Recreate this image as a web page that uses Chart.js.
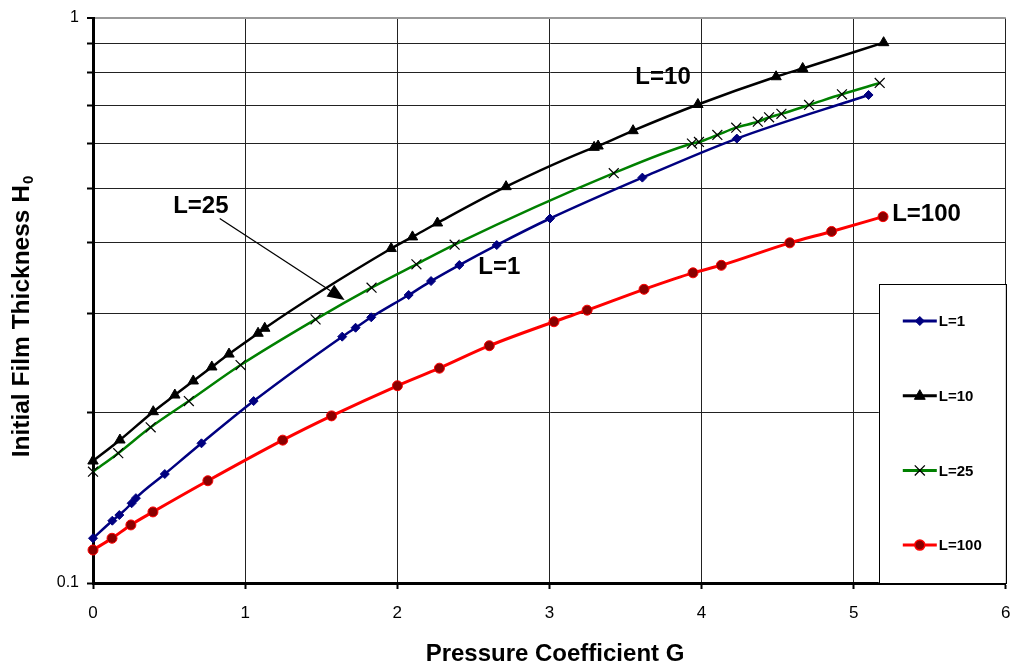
<!DOCTYPE html>
<html lang="en">
<head>
  <meta charset="UTF-8" />
  <title>Initial Film Thickness vs Pressure Coefficient</title>
  <script src="https://cdn.jsdelivr.net/npm/chart.js"></script>
  <style>
    html, body { margin: 0; padding: 0; background: #fff; overflow: hidden; }
    #wrap { width: 1010px; height: 663px; overflow: hidden; }
  </style>
</head>
<body>
<div id="wrap"><canvas id="chart" width="1014" height="663"></canvas></div>
<script>
// values: pressure coefficient G and film thickness H0
const gL1 = [0, 0.127, 0.173, 0.254, 0.282, 0.472, 0.713, 1.056, 1.638, 1.726, 1.829, 2.075, 2.222, 2.408, 2.654, 3.004, 3.611, 4.232, 5.098];
const hL1 = [0.120, 0.1289, 0.1319, 0.1384, 0.1413, 0.1559, 0.1767, 0.2099, 0.2729, 0.2830, 0.2953, 0.3234, 0.3423, 0.3654, 0.3964, 0.4417, 0.5218, 0.6118, 0.7307];

const gL10 = [0, 0.177, 0.396, 0.538, 0.659, 0.781, 0.894, 1.085, 1.129, 1.960, 2.100, 2.264, 2.715, 3.294, 3.320, 3.550, 3.976, 4.490, 4.665, 5.197];
const hL10 = [0.1644, 0.1791, 0.2010, 0.2151, 0.2278, 0.2412, 0.2542, 0.2767, 0.2824, 0.3908, 0.4098, 0.4337, 0.5029, 0.5903, 0.5935, 0.6318, 0.7029, 0.7871, 0.8140, 0.9043];

const gL25 = [0, 0.166, 0.379, 0.630, 0.970, 1.463, 1.831, 2.126, 2.377, 3.423, 3.937, 3.983, 4.104, 4.228, 4.370, 4.444, 4.525, 4.707, 4.923, 5.171];
const hL25 = [0.1574, 0.1697, 0.1886, 0.2099, 0.2431, 0.2928, 0.3332, 0.3665, 0.3970, 0.5313, 0.5996, 0.6033, 0.6208, 0.6396, 0.6552, 0.6671, 0.6767, 0.7015, 0.7328, 0.7673];

const gL100 = [0, 0.125, 0.249, 0.394, 0.755, 1.247, 1.568, 2.001, 2.277, 2.605, 3.030, 3.248, 3.622, 3.944, 4.130, 4.580, 4.855, 5.193];
const hL100 = [0.1144, 0.120, 0.1267, 0.1336, 0.1517, 0.179, 0.1976, 0.2234, 0.240, 0.263, 0.290, 0.304, 0.331, 0.354, 0.365, 0.400, 0.419, 0.445];

const seriesLabels = ['L=1', 'L=10', 'L=25', 'L=100'];
const xTicks = [0, 1, 2, 3, 4, 5, 6];
const yTicks = [0.1, 0.2, 0.3, 0.4, 0.5, 0.6, 0.7, 0.8, 0.9, 1];

// in-plot labels (data coordinates)
const noteText = ['L=10', 'L=25', 'L=1', 'L=100'];
const noteG = [3.747, 0.709, 2.671, 5.479];
const noteH = [0.788, 0.4667, 0.3629, 0.4508];
const arrowFrom = [0.833, 0.4417];
const arrowTo = [1.654, 0.3169];

const FONT = '"Liberation Sans", Arial, sans-serif';

function pts(gs, hs) {
  return gs.map((g, i) => ({ x: g, y: hs[i] }));
}

const styles = [
  { line: '#000080', fill: '#000080', edge: '#000080', shape: 'rectRot', r: 4.5, lw: 2.5 },
  { line: '#000000', fill: '#000000', edge: '#000000', shape: 'triangle', r: 6, lw: 2.5 },
  { line: '#008000', fill: '#000000', edge: '#000000', shape: 'crossRot', r: 7, lw: 2.5 },
  { line: '#ff0000', fill: '#8b0000', edge: '#ff0000', shape: 'circle', r: 5, lw: 3 }
];
const seriesG = [gL1, gL10, gL25, gL100];
const seriesH = [hL1, hL10, hL25, hL100];

const datasets = seriesLabels.map((lab, i) => ({
  label: lab,
  data: pts(seriesG[i], seriesH[i]),
  borderColor: styles[i].line,
  backgroundColor: styles[i].fill,
  borderWidth: styles[i].lw,
  pointStyle: styles[i].shape,
  pointRadius: styles[i].r,
  pointBackgroundColor: styles[i].fill,
  pointBorderColor: styles[i].edge,
  pointBorderWidth: i === 2 ? 1.2 : 1,
  cubicInterpolationMode: 'monotone',
  clip: false
}));

function drawMarker(ctx, s, x, y) {
  ctx.save();
  ctx.fillStyle = s.fill;
  ctx.strokeStyle = s.edge;
  ctx.lineWidth = 1;
  ctx.beginPath();
  if (s.shape === 'rectRot') {
    ctx.moveTo(x, y - s.r); ctx.lineTo(x + s.r, y); ctx.lineTo(x, y + s.r); ctx.lineTo(x - s.r, y);
    ctx.closePath(); ctx.fill(); ctx.stroke();
  } else if (s.shape === 'triangle') {
    ctx.moveTo(x, y - s.r); ctx.lineTo(x + s.r * 0.9, y + s.r * 0.6); ctx.lineTo(x - s.r * 0.9, y + s.r * 0.6);
    ctx.closePath(); ctx.fill(); ctx.stroke();
  } else if (s.shape === 'crossRot') {
    const d = s.r * 0.72;
    ctx.lineWidth = 1.3;
    ctx.moveTo(x - d, y - d); ctx.lineTo(x + d, y + d);
    ctx.moveTo(x + d, y - d); ctx.lineTo(x - d, y + d);
    ctx.stroke();
  } else {
    ctx.lineWidth = 1.5;
    ctx.arc(x, y, s.r, 0, Math.PI * 2);
    ctx.fill(); ctx.stroke();
  }
  ctx.restore();
}

const decorations = {
  id: 'decorations',
  afterDraw(chart) {
    const { ctx, chartArea, scales } = chart;
    const xs = scales.x, ys = scales.y;
    ctx.save();

    // labels inside the plot
    ctx.fillStyle = '#000';
    ctx.font = 'bold 24px ' + FONT;
    ctx.textAlign = 'center';
    ctx.textBaseline = 'middle';
    noteText.forEach((t, i) => {
      ctx.fillText(t, xs.getPixelForValue(noteG[i]), ys.getPixelForValue(noteH[i]) + 1);
    });

    // arrow pointing at L=25
    const ax0 = xs.getPixelForValue(arrowFrom[0]), ay0 = ys.getPixelForValue(arrowFrom[1]);
    const ax1 = xs.getPixelForValue(arrowTo[0]), ay1 = ys.getPixelForValue(arrowTo[1]);
    const ang = Math.atan2(ay1 - ay0, ax1 - ax0);
    const headLen = 17, headW = 7;
    const bx = ax1 - headLen * Math.cos(ang), by = ay1 - headLen * Math.sin(ang);
    ctx.strokeStyle = '#000';
    ctx.lineWidth = 1.3;
    ctx.beginPath(); ctx.moveTo(ax0, ay0); ctx.lineTo(bx, by); ctx.stroke();
    ctx.beginPath();
    ctx.moveTo(ax1, ay1);
    ctx.lineTo(bx + headW * Math.sin(ang), by - headW * Math.cos(ang));
    ctx.lineTo(bx - headW * Math.sin(ang), by + headW * Math.cos(ang));
    ctx.closePath(); ctx.fill();

    // legend box sitting in the lower right of the plot
    const lx = chartArea.right - 127, ly = chartArea.top + 266;
    const lw = 127, lh = chartArea.bottom - ly;
    ctx.fillStyle = '#fff';
    ctx.fillRect(lx, ly, lw, lh);
    ctx.strokeStyle = '#000';
    ctx.lineWidth = 1;
    ctx.strokeRect(Math.round(lx) + 0.5, Math.round(ly) + 0.5, lw, lh);
    ctx.font = 'bold 15px ' + FONT;
    ctx.textAlign = 'left';
    ctx.textBaseline = 'middle';
    seriesLabels.forEach((lab, i) => {
      const y = ly + 37 + i * 74.7;
      ctx.strokeStyle = styles[i].line;
      ctx.lineWidth = 3;
      ctx.beginPath(); ctx.moveTo(lx + 24, y); ctx.lineTo(lx + 58, y); ctx.stroke();
      drawMarker(ctx, styles[i], lx + 41, y);
      ctx.fillStyle = '#000';
      ctx.fillText(lab, lx + 60, y + 1);
    });

    // axis titles
    ctx.fillStyle = '#000';
    ctx.textBaseline = 'alphabetic';
    ctx.textAlign = 'center';
    ctx.font = 'bold 24px ' + FONT;
    ctx.fillText('Pressure Coefficient G', 555, 661);

    ctx.translate(29, 317);
    ctx.rotate(-Math.PI / 2);
    const main = 'Initial Film Thickness H';
    ctx.font = 'bold 24.5px ' + FONT;
    const w1 = ctx.measureText(main).width;
    ctx.font = 'bold 15px ' + FONT;
    const w2 = ctx.measureText('0').width;
    const x0 = -(w1 + w2) / 2;
    ctx.textAlign = 'left';
    ctx.font = 'bold 24.5px ' + FONT;
    ctx.fillText(main, x0, 0);
    ctx.font = 'bold 15px ' + FONT;
    ctx.fillText('0', x0 + w1 + 1, 4);
    ctx.restore();
  }
};

new Chart(document.getElementById('chart'), {
  type: 'line',
  data: { datasets: datasets },
  options: {
    responsive: false,
    devicePixelRatio: 1,
    animation: false,
    layout: { padding: { left: 0, top: 18, right: 0, bottom: 0 } },
    plugins: { legend: { display: false }, tooltip: { enabled: false } },
    scales: {
      x: {
        type: 'linear',
        min: 0,
        max: 6,
        afterFit: s => { s.height = 80; s.paddingLeft = 0; s.paddingRight = 0; },
        afterBuildTicks: s => { s.ticks = xTicks.map(v => ({ value: v })); },
        ticks: { color: '#000', font: { family: FONT, size: 17 }, padding: 14, maxRotation: 0 },
        grid: { color: '#222', lineWidth: 1, tickLength: 6, tickColor: '#000', tickWidth: 2 },
        border: { color: '#000', width: 3 }
      },
      y: {
        type: 'logarithmic',
        min: 0.1,
        max: 1,
        afterFit: s => { s.width = 93; s.paddingTop = 0; s.paddingBottom = 0; },
        afterBuildTicks: s => { s.ticks = yTicks.map(v => ({ value: v })); },
        ticks: {
          color: '#000',
          font: { family: FONT, size: 16 },
          padding: 8,
          callback: v => (v === 1 ? '1' : v === 0.1 ? '0.1' : '')
        },
        grid: {
          color: c => (c.tick && c.tick.value === 1 ? '#999' : '#222'),
          lineWidth: c => (c.tick && c.tick.value === 1 ? 2 : 1),
          tickLength: 6,
          tickColor: '#000',
          tickWidth: 2
        },
        border: { color: '#000', width: 3 }
      }
    }
  },
  plugins: [decorations]
});
</script>
</body>
</html>
